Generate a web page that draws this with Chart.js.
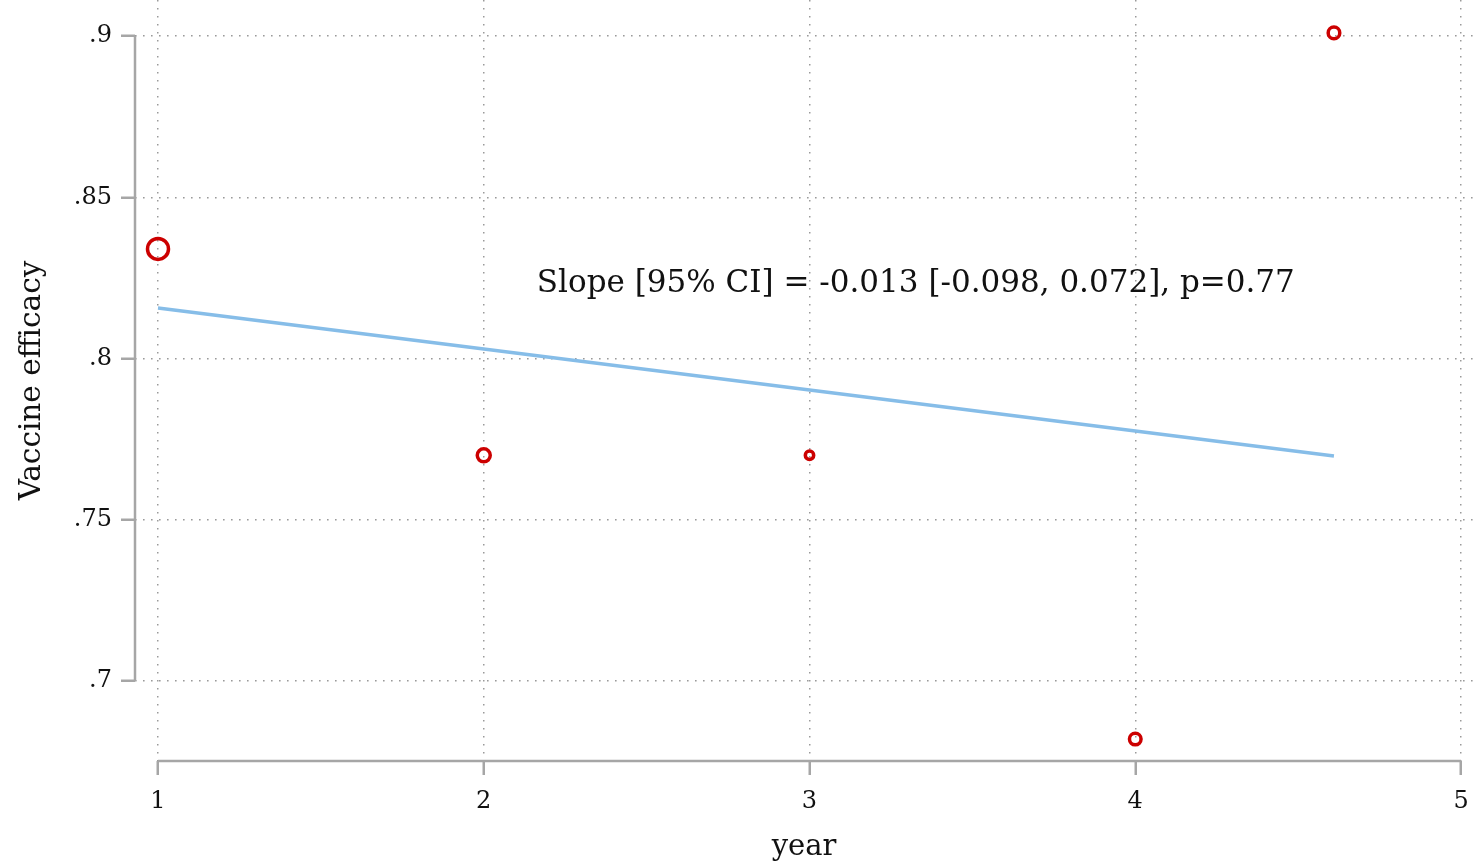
<!DOCTYPE html>
<html>
<head>
<meta charset="utf-8">
<script src="https://cdn.jsdelivr.net/npm/chart.js@4"></script>
<style>
  html, body { margin: 0; padding: 0; background: #fff; }
  #wrap { width: 1473px; height: 865px; position: relative; }
</style>
</head>
<body>
<div id="wrap"><canvas id="c"></canvas></div>
<script>
// ---- data ----
const years = [1, 2, 3, 4, 4.61];
const efficacy = [0.834, 0.770, 0.770, 0.682, 0.901];
const studyWeight = [10.5, 6.5, 4.2, 5.8, 5.8];        // marker weights (bubble size)
const fitX = [1, 4.61];
const fitY = [0.8157, 0.7698];
const xTicks = [1, 2, 3, 4, 5];
const xTickLabels = ['1', '2', '3', '4', '5'];
const yTicks = [0.7, 0.75, 0.8, 0.85, 0.9];
const yTickLabels = ['.7', '.75', '.8', '.85', '.9'];
const annotationText = 'Slope [95% CI] = -0.013 [-0.098, 0.072], p=0.77';
const annotationAt = { x: 2.163, y: 0.8205 };
const xTitle = 'year';
const yTitle = 'Vaccine efficacy';

const FONT = 'DejaVu Serif';
const GRID = '#9a9a9a';
const AXIS = '#a6a6a6';
const RED = '#cc0000';
const BLUE = '#86bde8';

const axisLines = {
  id: 'axisLines',
  beforeDatasetsDraw(chart) {
    const { ctx, chartArea, scales } = chart;
    ctx.save();
    ctx.strokeStyle = AXIS;
    ctx.lineWidth = 2.5;
    ctx.setLineDash([]);
    ctx.beginPath();
    const yTop = scales.y.getPixelForValue(yTicks[yTicks.length - 1]);
    const yBot = scales.y.getPixelForValue(yTicks[0]);
    ctx.moveTo(chartArea.left, yTop);
    ctx.lineTo(chartArea.left, yBot);
    const xL = scales.x.getPixelForValue(xTicks[0]);
    const xR = scales.x.getPixelForValue(xTicks[xTicks.length - 1]);
    ctx.moveTo(xL, chartArea.bottom);
    ctx.lineTo(xR, chartArea.bottom);
    ctx.stroke();
    ctx.restore();
  },
  afterDraw(chart) {
    const { ctx, scales } = chart;
    ctx.save();
    ctx.font = '31px "' + FONT + '"';
    ctx.fillStyle = '#111';
    ctx.textAlign = 'left';
    ctx.textBaseline = 'alphabetic';
    ctx.fillText(annotationText, scales.x.getPixelForValue(annotationAt.x), scales.y.getPixelForValue(annotationAt.y));
    ctx.restore();
  }
};

function noPad(s) {
  s.paddingTop = 0; s.paddingBottom = 0; s.paddingLeft = 0; s.paddingRight = 0;
}

new Chart(document.getElementById('c'), {
  data: {
    datasets: [
      {
        type: 'line',
        data: fitX.map((x, i) => ({ x, y: fitY[i] })),
        borderColor: BLUE,
        borderWidth: 3.5,
        pointRadius: 0,
        fill: false,
        order: 2
      },
      {
        type: 'scatter',
        data: years.map((x, i) => ({ x, y: efficacy[i] })),
        pointRadius: studyWeight,
        pointBackgroundColor: 'rgba(0,0,0,0)',
        pointBorderColor: RED,
        pointBorderWidth: 3.5,
        order: 1
      }
    ]
  },
  options: {
    responsive: true,
    maintainAspectRatio: false,
    animation: false,
    layout: { padding: 0, autoPadding: false },
    plugins: { legend: { display: false }, tooltip: { enabled: false } },
    scales: {
      x: {
        type: 'linear',
        position: 'bottom',
        min: 0.9294,
        max: 5.0368,
        afterBuildTicks(s) { s.ticks = xTicks.map(v => ({ value: v })); },
        afterFit(s) { s.height = 104; noPad(s); },
        ticks: {
          callback: (v) => xTickLabels[xTicks.indexOf(v)],
          font: { family: FONT, size: 24 },
          color: '#111',
          padding: 12,
          maxRotation: 0,
          autoSkip: false
        },
        grid: {
          color: GRID,
          lineWidth: 1.5,
          drawTicks: true,
          tickLength: 14,
          tickColor: AXIS,
          tickWidth: 2.5,
          tickBorderDash: []
        },
        border: { display: false, dash: [1.6, 6.4] },
        title: {
          display: true,
          text: xTitle,
          font: { family: FONT, size: 29 },
          color: '#111',
          padding: { top: 0, bottom: 0 }
        }
      },
      y: {
        type: 'linear',
        position: 'left',
        min: 0.6752,
        max: 0.9112,
        afterBuildTicks(s) { s.ticks = yTicks.map(v => ({ value: v })); },
        afterFit(s) { s.width = 135; noPad(s); },
        ticks: {
          callback: (v) => yTickLabels[yTicks.indexOf(v)],
          font: { family: FONT, size: 24 },
          color: '#111',
          padding: 9,
          autoSkip: false
        },
        grid: {
          color: GRID,
          lineWidth: 1.5,
          drawTicks: true,
          tickLength: 14,
          tickColor: AXIS,
          tickWidth: 2.5,
          tickBorderDash: []
        },
        border: { display: false, dash: [1.6, 6.4] },
        title: {
          display: true,
          text: yTitle,
          font: { family: FONT, size: 29.5 },
          color: '#111',
          padding: { top: 15, bottom: 0 }
        }
      }
    }
  },
  plugins: [axisLines]
});
</script>
</body>
</html>
